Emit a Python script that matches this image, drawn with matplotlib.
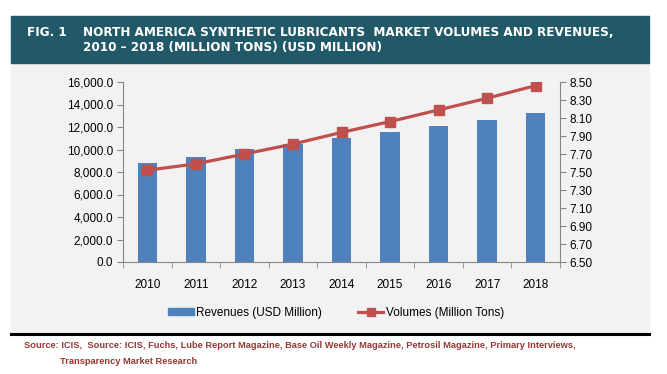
import numpy as np
import matplotlib.pyplot as plt
from matplotlib.patches import Rectangle
from matplotlib.lines import Line2D

years = ['2010', '2011', '2012', '2013', '2014', '2015', '2016', '2017', '2018']
revenues = [8800, 9330, 10040, 10490, 11020, 11560, 12090, 12620, 13240]
volumes = [7.52, 7.59, 7.70, 7.81, 7.94, 8.06, 8.19, 8.32, 8.46]

plt.rcParams['font.family'] = ['Liberation Sans', 'DejaVu Sans']

W, H = 667, 374
fig = plt.figure(figsize=(W / 100, H / 100), dpi=100)
fig.patch.set_facecolor('white')

# fondo gris y banda del titulo
fig.patches.append(Rectangle((11 / W, 1 - 333 / H), 638 / W, 270 / H,
                             transform=fig.transFigure, color='#f2f2f2', zorder=-2))
fig.patches.append(Rectangle((11 / W, 1 - 63 / H), 638 / W, 47 / H,
                             transform=fig.transFigure, color='#215968', zorder=-1))
fig.add_artist(Line2D([11 / W, 649 / W], [1 - 333.5 / H, 1 - 333.5 / H],
                      transform=fig.transFigure, color='black', lw=2.2))

tkw = dict(color='white', fontsize=9.6, fontweight='bold', family='DejaVu Sans',
           fontstretch='condensed', va='center')
fig.text(27 / W, 1 - 33 / H, 'FIG. 1', **tkw)
fig.text(83 / W, 1 - 33 / H, 'NORTH AMERICA SYNTHETIC LUBRICANTS  MARKET VOLUMES AND REVENUES,', **tkw)
fig.text(83 / W, 1 - 48 / H, '2010 \u2013 2018 (MILLION TONS) (USD MILLION)', **tkw)

skw = dict(color='#953735', fontsize=6.65, fontweight='bold', va='center')
fig.text(24 / W, 1 - 345 / H,
         'Source: ICIS,  Source: ICIS, Fuchs, Lube Report Magazine, Base Oil Weekly Magazine, '
         'Petrosil Magazine, Primary Interviews,', **skw)
fig.text(60 / W, 1 - 362 / H, 'Transparency Market Research', **skw)

# ejes
ax = fig.add_axes([123 / W, 1 - 262 / H, (560 - 123) / W, 180 / H])
ax.set_facecolor('none')
x = np.arange(len(years))
ax.bar(x, revenues, width=0.4, color='#4f81bd', zorder=2)
ax.set_ylim(0, 16000)
ax.set_xlim(-0.5, len(years) - 0.5)
ax.set_yticks(np.arange(0, 16001, 2000))
ax.set_yticklabels([f'{v:,.1f}' for v in np.arange(0, 16001, 2000)])
ax.set_xticks(x)
ax.set_xticklabels(years)
ax.set_xticks(np.arange(-0.5, len(years), 1), minor=True)
ax.tick_params(axis='x', which='major', length=0, pad=12, labelsize=8.5)
ax.tick_params(axis='x', which='minor', length=4, color='#868686')
ax.tick_params(axis='y', length=4, color='#868686', labelsize=8.5, pad=3)
for s in ['top', 'right']:
    ax.spines[s].set_visible(False)
for s in ['left', 'bottom']:
    ax.spines[s].set_color('#868686')

ax2 = ax.twinx()
ax2.plot(x, volumes, color='#c0504d', lw=2.3, marker='s', markersize=7, zorder=3)
ax2.set_ylim(6.5, 8.5)
ax2.set_yticks(np.arange(6.5, 8.51, 0.2))
ax2.set_yticklabels([f'{v:.2f}' for v in np.arange(6.5, 8.51, 0.2)])
ax2.tick_params(axis='y', length=4, color='#868686', labelsize=8.5, pad=3)
for s in ['top', 'left', 'bottom']:
    ax2.spines[s].set_visible(False)
ax2.spines['right'].set_color('#868686')

handles = [Rectangle((0, 0), 1, 1, color='#4f81bd'),
           Line2D([], [], color='#c0504d', lw=2.3, marker='s', markersize=6)]
fig.legend(handles, ['Revenues (USD Million)', 'Volumes (Million Tons)'],
           loc='center', bbox_to_anchor=(336 / W, 1 - 313 / H), ncol=2, frameon=False,
           fontsize=8.5, handlelength=2.2, handleheight=0.5, columnspacing=3.0,
           handletextpad=0.2)

fig.savefig('out.png', dpi=100, facecolor='white')
